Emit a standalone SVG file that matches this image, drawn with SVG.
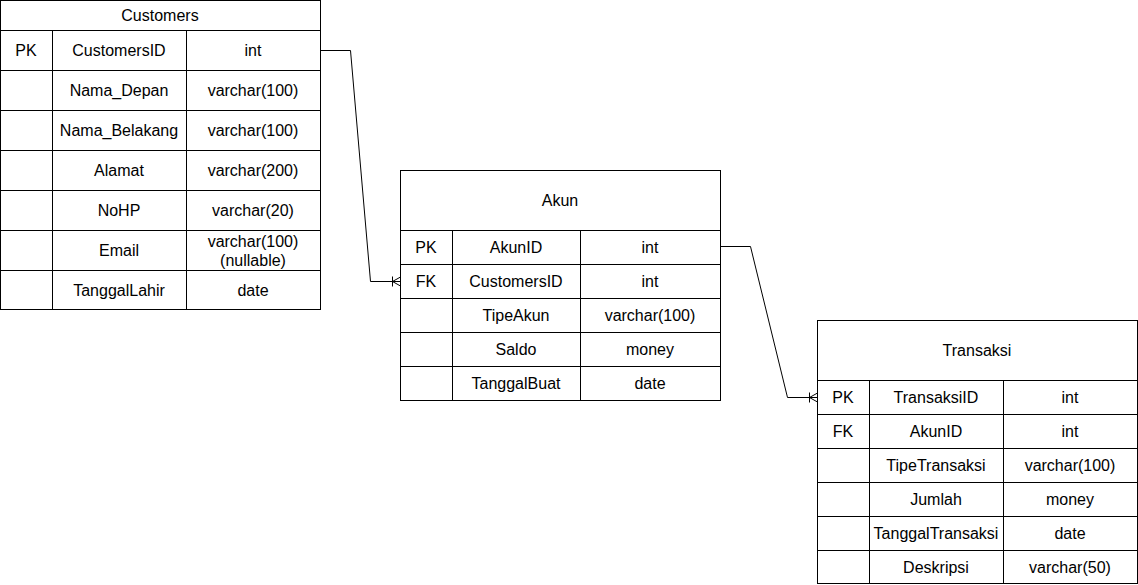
<svg xmlns="http://www.w3.org/2000/svg" width="1138" height="585" viewBox="0 0 1138 585">
<defs>
<style>
.b{fill:#fff;stroke:#000;stroke-width:1}
.l{stroke:#000;stroke-width:1;fill:none}
text{font-family:"Liberation Sans",Arial,sans-serif;font-size:16px;fill:#000;text-anchor:middle}
</style>
<marker id="many" viewBox="0 0 12 12" markerWidth="12" markerHeight="12" refX="11" refY="6" orient="auto" markerUnits="userSpaceOnUse">
<path d="M3,1 L3,11 M3,6 L11,1.5 M3,6 L11,10.5" fill="none" stroke="#000" stroke-width="1"/>
</marker>
</defs>
<rect width="1138" height="585" fill="#fff"/>
<g id="customers">
<rect class="b" x="0.5" y="0.5" width="320" height="309"/>
<path class="l" d="M0.5,30.5H320.5M0.5,70.5H320.5M0.5,110.5H320.5M0.5,150.5H320.5M0.5,190.5H320.5M0.5,230.5H320.5M0.5,270.5H320.5M52.5,30.5V309.5M186.5,30.5V309.5"/>
<text x="160" y="21">Customers</text>
<text x="26" y="56">PK</text><text x="119" y="56">CustomersID</text><text x="253" y="56">int</text>
<text x="119" y="96">Nama_Depan</text><text x="253" y="96">varchar(100)</text>
<text x="119" y="136">Nama_Belakang</text><text x="253" y="136">varchar(100)</text>
<text x="119" y="176">Alamat</text><text x="253" y="176">varchar(200)</text>
<text x="119" y="216">NoHP</text><text x="253" y="216">varchar(20)</text>
<text x="119" y="256">Email</text><text x="253" y="247">varchar(100)</text><text x="253" y="266">(nullable)</text>
<text x="119" y="296">TanggalLahir</text><text x="253" y="296">date</text>
</g>
<g id="akun">
<rect class="b" x="400.5" y="170.5" width="320" height="230"/>
<path class="l" d="M400.5,230.5H720.5M400.5,264.5H720.5M400.5,298.5H720.5M400.5,332.5H720.5M400.5,366.5H720.5M452.5,230.5V400.5M580.5,230.5V400.5"/>
<text x="560" y="206">Akun</text>
<text x="426" y="253">PK</text><text x="516" y="253">AkunID</text><text x="650" y="253">int</text>
<text x="426" y="287">FK</text><text x="516" y="287">CustomersID</text><text x="650" y="287">int</text>
<text x="516" y="321">TipeAkun</text><text x="650" y="321">varchar(100)</text>
<text x="516" y="355">Saldo</text><text x="650" y="355">money</text>
<text x="516" y="389">TanggalBuat</text><text x="650" y="389">date</text>
</g>
<g id="transaksi">
<rect class="b" x="817.5" y="320.5" width="320" height="263"/>
<path class="l" d="M817.5,380.5H1137.5M817.5,414.5H1137.5M817.5,448.5H1137.5M817.5,482.5H1137.5M817.5,516.5H1137.5M817.5,550.5H1137.5M869.5,380.5V583.5M1003.5,380.5V583.5"/>
<text x="977" y="356">Transaksi</text>
<text x="843" y="403">PK</text><text x="936" y="403">TransaksiID</text><text x="1070" y="403">int</text>
<text x="843" y="437">FK</text><text x="936" y="437">AkunID</text><text x="1070" y="437">int</text>
<text x="936" y="471">TipeTransaksi</text><text x="1070" y="471">varchar(100)</text>
<text x="936" y="505">Jumlah</text><text x="1070" y="505">money</text>
<text x="936" y="539">TanggalTransaksi</text><text x="1070" y="539">date</text>
<text x="936" y="573">Deskripsi</text><text x="1070" y="573">varchar(50)</text>
</g>
<g id="connectors">
<path class="l" d="M320.5,50.5H350.5L370.5,281.5H400.5" marker-end="url(#many)"/>
<path class="l" d="M720.5,246.5H750.5L787.5,397.5H817.5" marker-end="url(#many)"/>
</g>
</svg>
